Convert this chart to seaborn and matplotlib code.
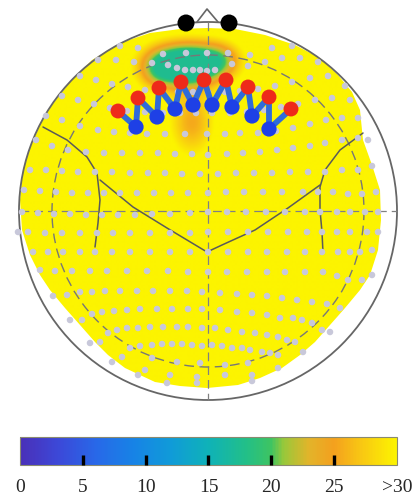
import numpy as np
import matplotlib
matplotlib.use('Agg')
import matplotlib.pyplot as plt
import seaborn as sns
from matplotlib.colors import LinearSegmentedColormap
from matplotlib.patches import Circle, Polygon

sns.set_style('white')
plt.rcParams['font.family'] = ['Liberation Serif', 'DejaVu Serif']
plt.rcParams['axes.axisbelow'] = False

# ---------------- data (head coords in px, y grows downward) ----------------
# sensor rows: (x list, y list)
sensor_rows = [
    ([120, 138, 163, 186, 207, 228, 250, 272, 292],
     [46, 48, 54, 53, 53, 53, 55, 48, 46]),
    ([98, 116, 134, 152, 168, 177, 185, 193, 200, 207, 215, 232, 248, 265, 282, 300, 318],
     [60, 60, 62, 63, 65, 68, 70, 70, 70, 71, 70, 64, 66, 62, 58, 58, 62]),
    ([80, 96, 112, 128, 145, 162, 178, 193, 208, 225, 240, 258, 275, 292, 310, 328, 345],
     [76, 80, 84, 87, 90, 91, 92, 92, 92, 92, 91, 89, 86, 82, 78, 76, 86]),
    ([62, 78, 94, 110, 127, 145, 163, 180, 196, 212, 230, 247, 264, 281, 298, 315, 332, 350],
     [96, 100, 104, 108, 111, 112, 113, 113, 113, 113, 113, 112, 110, 107, 104, 100, 98, 100]),
    ([46, 62, 80, 98, 114, 130, 147, 165, 185, 207, 225, 240, 258, 276, 293, 310, 326, 342, 358],
     [116, 120, 126, 130, 132, 133, 134, 134, 134, 134, 134, 133, 133, 131, 128, 124, 120, 118, 118]),
    ([36, 52, 68, 86, 104, 122, 140, 158, 175, 192, 208, 227, 243, 260, 277, 293, 310, 325, 342, 358, 368],
     [140, 146, 150, 152, 153, 153, 153, 153, 154, 154, 155, 154, 153, 152, 150, 148, 146, 143, 140, 138, 140]),
    ([30, 46, 62, 78, 95, 112, 130, 148, 165, 182, 200, 218, 236, 254, 272, 290, 308, 325, 342, 358, 372],
     [170, 170, 171, 172, 172, 172, 173, 173, 173, 174, 174, 174, 173, 173, 173, 172, 172, 172, 170, 170, 166]),
    ([24, 40, 56, 72, 88, 104, 120, 137, 154, 171, 188, 208, 226, 244, 263, 282, 303, 318, 333, 348, 362, 376],
     [190, 191, 192, 193, 193, 193, 193, 193, 193, 193, 193, 193, 192, 192, 192, 192, 192, 192, 192, 194, 194, 192]),
    ([22, 38, 54, 70, 86, 102, 118, 135, 152, 170, 190, 208, 227, 246, 266, 285, 305, 320, 337, 350, 365, 378],
     [212, 213, 214, 214, 215, 215, 215, 215, 214, 214, 213, 212, 212, 212, 212, 212, 212, 212, 212, 212, 212, 212]),
    ([18, 28, 45, 62, 80, 97, 113, 130, 150, 170, 190, 208, 228, 248, 268, 288, 307, 322, 337, 350, 367, 378],
     [232, 232, 233, 233, 233, 233, 233, 233, 233, 233, 233, 232, 232, 232, 232, 232, 232, 232, 232, 232, 232, 232]),
    ([33, 48, 63, 80, 95, 112, 130, 150, 170, 190, 208, 228, 248, 267, 287, 305, 322, 338, 350, 360, 372],
     [252, 252, 252, 252, 252, 252, 252, 252, 252, 252, 252, 252, 252, 252, 252, 252, 252, 252, 252, 252, 250]),
    ([40, 55, 72, 90, 107, 127, 147, 168, 188, 208, 227, 247, 267, 285, 305, 323, 337, 348, 362, 372],
     [270, 271, 271, 271, 271, 271, 271, 271, 272, 272, 272, 272, 272, 272, 272, 272, 276, 280, 280, 275]),
    ([53, 67, 80, 92, 105, 120, 137, 153, 170, 187, 202, 220, 237, 252, 267, 282, 297, 312, 327, 340],
     [296, 295, 292, 292, 291, 291, 291, 291, 291, 291, 292, 293, 294, 295, 296, 298, 300, 302, 304, 308]),
    ([70, 82, 92, 102, 114, 127, 140, 157, 172, 188, 202, 220, 237, 252, 267, 280, 293, 302, 312, 322, 330],
     [320, 320, 314, 312, 311, 310, 309, 309, 309, 309, 309, 310, 312, 313, 315, 318, 318, 320, 323, 330, 332]),
    ([90, 100, 108, 117, 127, 138, 150, 163, 177, 188, 202, 215, 228, 242, 255, 267, 278, 287, 295, 303],
     [343, 342, 333, 330, 328, 328, 327, 327, 327, 327, 328, 328, 330, 332, 333, 335, 337, 340, 342, 352]),
    ([112, 122, 130, 140, 152, 162, 172, 182, 192, 202, 212, 222, 232, 242, 250, 262, 270, 278],
     [362, 357, 348, 346, 345, 344, 344, 344, 345, 346, 345, 346, 348, 348, 350, 352, 353, 355]),
    ([138, 145, 152, 167, 170, 177, 197, 197, 200, 225, 225, 248, 252, 252, 278],
     [375, 370, 358, 383, 375, 362, 377, 383, 363, 365, 375, 363, 375, 381, 368]),
]

# stimulating electrodes (red) and recording electrodes (blue)
red_x = [118, 138, 159, 181, 204, 226, 248, 269, 291]
red_y = [111, 98, 88, 82, 80, 80, 87, 97, 109]
blue_x = [136, 157, 175, 193, 212, 232, 252, 269]
blue_y = [127, 117, 109, 105, 105, 107, 116, 129]

# reference electrodes near the nose
ref_x = [186, 229]
ref_y = [23, 23]

# low-value patches of the map: centre, drop, spread
patch_x = [188, 192, 158, 222]
patch_y = [64, 122, 70, 58]
patch_drop = [22, 7, 6, 5]
patch_sx = [26, 16, 14, 14]
patch_sy = [15, 24, 14, 12]
background_level = 32.5

# outline of the interpolated area
area_x = [180, 207, 235, 265, 295, 320, 338, 352, 360, 363, 372, 380, 381, 378, 370, 360, 345,
          330, 315, 300, 282, 260, 238, 207, 180, 155, 125, 108, 95, 80, 65, 50, 40, 30, 22,
          20, 23, 30, 40, 52, 70, 92, 120, 150]
area_y = [29, 28, 29, 35, 45, 58, 75, 92, 110, 140, 165, 190, 220, 250, 275, 290, 308,
          325, 342, 355, 368, 378, 385, 388, 386, 382, 368, 355, 342, 325, 308, 290, 275, 255, 230,
          200, 170, 148, 125, 105, 82, 60, 43, 33]

# anatomical guide lines
curve_left_x = [43, 67, 87, 97, 100, 98, 95]
curve_left_y = [127, 140, 157, 173, 200, 223, 247]
curve_left2_x = [100, 133, 167, 207]
curve_left2_y = [180, 207, 228, 252]
curve_right_x = [363, 340, 325, 320, 320, 322, 323]
curve_right_y = [133, 150, 170, 187, 210, 232, 253]
curve_right2_x = [320, 288, 255, 222, 207]
curve_right2_y = [185, 208, 230, 245, 252]

cbar_ticks = [0, 5, 10, 15, 20, 25, 30]
cbar_labels = ['0', '5', '10', '15', '20', '25', '>30']

# ---------------- colour map ----------------
anchors = [(0, '#4a30b8'), (3, '#3c48d8'), (6, '#2868e8'), (9, '#1783e6'), (12, '#109bd8'),
           (15, '#0fb2b8'), (18, '#22bf88'), (20, '#3ec462'), (21, '#98c83a'), (23, '#e2b42a'),
           (25, '#f4a01e'), (27, '#f8c414'), (30, '#fcf400')]
cmap = LinearSegmentedColormap.from_list('topo', [(v / 30, c) for v, c in anchors])

# ---------------- figure ----------------
fig = plt.figure(figsize=(4.13, 4.98), dpi=100)
ax = fig.add_axes([0, 1 - 430 / 498, 1, 430 / 498])

gx, gy = np.meshgrid(np.arange(0, 414), np.arange(0, 431))
field = np.full(gx.shape, float(background_level))
for px, py, d, sx, sy in zip(patch_x, patch_y, patch_drop, patch_sx, patch_sy):
    field -= d * np.exp(-((gx - px) ** 2 / (2 * sx ** 2) + (gy - py) ** 2 / (2 * sy ** 2)))
field = np.clip(field, 17.5, None)

im = ax.imshow(field, extent=(0, 413, 430, 0), origin='upper', cmap=cmap,
               vmin=0, vmax=30, interpolation='bilinear', zorder=1)
area = Polygon(np.column_stack([area_x, area_y]), closed=True, transform=ax.transData)
im.set_clip_path(area)

# head outline
ax.add_patch(Circle((208, 211), 189, fill=False, ec='#666666', lw=1.3, zorder=2))
ax.add_patch(Circle((208, 211), 156, fill=False, ec='#777777', lw=1.0,
                    ls=(0, (7, 4)), zorder=2))
ax.plot([20, 397], [211, 211], color='#808080', lw=0.9, ls=(0, (7, 4)), zorder=2)
ax.plot([208, 208], [22, 400], color='#808080', lw=0.9, ls=(0, (7, 4)), zorder=2)
ax.plot([197, 207, 218], [22, 9, 22], color='#666666', lw=1.2, zorder=2)

for cx, cy in [(curve_left_x, curve_left_y), (curve_left2_x, curve_left2_y),
               (curve_right_x, curve_right_y), (curve_right2_x, curve_right2_y)]:
    ax.plot(cx, cy, color='#5a5a5a', lw=1.1, zorder=2)

# sensors
sx_all = np.concatenate([r[0] for r in sensor_rows])
sy_all = np.concatenate([r[1] for r in sensor_rows])
sns.scatterplot(x=sx_all, y=sy_all, color='#c8c8da', s=22, edgecolor='none',
                ax=ax, legend=False, zorder=3)

# zigzag electrode chain
zig_x, zig_y = [], []
for i in range(len(blue_x)):
    zig_x += [red_x[i], blue_x[i]]
    zig_y += [red_y[i], blue_y[i]]
zig_x.append(red_x[-1])
zig_y.append(red_y[-1])
sns.lineplot(x=zig_x, y=zig_y, sort=False, estimator=None, color='#2f6bd9', lw=4.2,
             ax=ax, legend=False, zorder=4)
sns.scatterplot(x=red_x, y=red_y, color='#ee2a1a', s=115, edgecolor='none', ax=ax,
                legend=False, zorder=5)
sns.scatterplot(x=blue_x, y=blue_y, color='#1e40e6', s=120, edgecolor='none', ax=ax,
                legend=False, zorder=5)
sns.scatterplot(x=ref_x, y=ref_y, color='black', s=150, edgecolor='none', ax=ax,
                legend=False, zorder=5)

ax.set_xlim(0, 413)
ax.set_ylim(430, 0)
ax.axis('off')

# colour bar
cax = fig.add_axes([20 / 413, 1 - 465 / 498, 377 / 413, 28 / 498])
cb = fig.colorbar(im, cax=cax, orientation='horizontal', ticks=cbar_ticks)
cb.ax.set_axisbelow(False)
cb.ax.set_xticklabels(cbar_labels)
cb.ax.tick_params(direction='in', length=7, width=2.4, color='black',
                  labelsize=14, pad=10)
edge_ticks = cb.ax.xaxis.get_major_ticks()
for t in (edge_ticks[0], edge_ticks[-1]):
    t.tick1line.set_visible(False)
cb.outline.set_edgecolor('#8a8a70')
cb.outline.set_linewidth(0.8)

plt.savefig('out.png', dpi=100)
